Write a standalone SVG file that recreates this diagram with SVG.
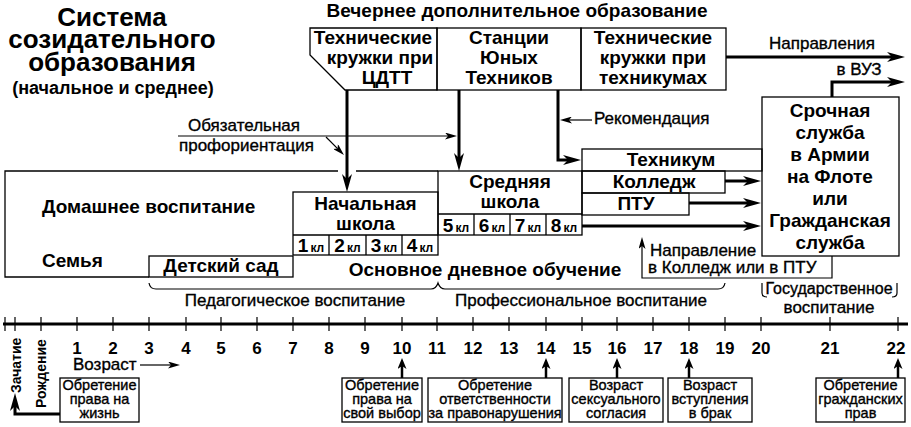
<svg xmlns="http://www.w3.org/2000/svg" width="911" height="427" viewBox="0 0 911 427">
<style>
.bx{fill:none;stroke:#000;stroke-width:1.3}
.t{font-family:"Liberation Sans",Arial,sans-serif;fill:#000}
.b{font-weight:bold}
.r{stroke:#000;stroke-width:0.35}
.c{text-anchor:middle}
.f17{font-size:17px}
.f19{font-size:19px}
.f14{font-size:14.5px}
.kl{font-size:12px}
.thick{fill:none;stroke:#000;stroke-width:3}
.thin{fill:none;stroke:#000;stroke-width:1.2}
.mid{fill:none;stroke:#000;stroke-width:2.5}
</style>
<defs>
<marker id="ah" markerUnits="userSpaceOnUse" markerWidth="18" markerHeight="10" refX="5" refY="5" orient="auto"><path d="M0,0 L18,5 L0,10 L5,5 z" fill="#000"/></marker>
<marker id="as" markerUnits="userSpaceOnUse" markerWidth="12" markerHeight="7" refX="3" refY="3.5" orient="auto"><path d="M0,0 L12,3.5 L0,7 L3,3.5 z" fill="#000"/></marker>
<marker id="at" markerUnits="userSpaceOnUse" markerWidth="11" markerHeight="9" refX="3" refY="4.5" orient="auto"><path d="M0,0 L11,4.5 L0,9 L3,4.5 z" fill="#000"/></marker>
</defs>
<rect width="911" height="427" fill="#fff"/>

<g id="title" class="t b c">
<text x="112" y="26" font-size="26">Система</text>
<text x="112" y="48" font-size="26">созидательного</text>
<text x="112" y="71" font-size="26">образования</text>
<text x="113" y="94" font-size="18">(начальное и среднее)</text>
</g>

<g id="evening-title"><text class="t b c f19" x="517" y="17">Вечернее дополнительное образование</text></g>

<g id="cdtt">
<path class="bx" d="M310,28 H437 V90 H345 L310,55 Z"/>
<text class="t b c f19" x="373" y="44">Технические</text>
<text class="t b c f19" x="380" y="64">кружки при</text>
<text class="t b c f19" x="387" y="84">ЦДТТ</text>
</g>
<g id="syt">
<rect class="bx" x="437" y="28" width="144" height="62"/>
<text class="t b c f19" x="509" y="44">Станции</text>
<text class="t b c f19" x="509" y="64">Юных</text>
<text class="t b c f19" x="509" y="84">Техников</text>
</g>
<g id="tech-circles">
<rect class="bx" x="581" y="28" width="145" height="62"/>
<text class="t b c f19" x="653" y="44">Технические</text>
<text class="t b c f19" x="653" y="64">кружки при</text>
<text class="t b c f19" x="653" y="84">техникумах</text>
</g>

<g id="home">
<path class="bx" d="M338,171 H5 V277 H149 M356,171 H438"/>
<text class="t b f19" x="42" y="213">Домашнее воспитание</text>
<text class="t b f19" x="42" y="267">Семья</text>
</g>
<g id="kindergarten">
<rect class="bx" x="149" y="256" width="144" height="21"/>
<text class="t b c f19" x="221" y="272">Детский сад</text>
</g>
<g id="primary">
<rect class="bx" x="293" y="192" width="145" height="63"/>
<path class="bx" d="M293,235 H438 M329,235 V255 M366,235 V255 M402,235 V255"/>
<text class="t b c f19" x="365.5" y="210">Начальная</text>
<text class="t b c f19" x="365.5" y="230">школа</text>
<text class="t b c f19" x="311" y="252">1<tspan class="kl" dx="2">кл</tspan></text>
<text class="t b c f19" x="347.5" y="252">2<tspan class="kl" dx="2">кл</tspan></text>
<text class="t b c f19" x="384" y="252">3<tspan class="kl" dx="2">кл</tspan></text>
<text class="t b c f19" x="420" y="252">4<tspan class="kl" dx="2">кл</tspan></text>
</g>
<g id="secondary">
<rect class="bx" x="438" y="171" width="144" height="64"/>
<path class="bx" d="M438,214 H582 M474,214 V235 M510,214 V235 M546,214 V235"/>
<text class="t b c f19" x="510" y="188">Средняя</text>
<text class="t b c f19" x="510" y="208">школа</text>
<text class="t b c f19" x="456" y="232">5<tspan class="kl" dx="2">кл</tspan></text>
<text class="t b c f19" x="492" y="232">6<tspan class="kl" dx="2">кл</tspan></text>
<text class="t b c f19" x="528" y="232">7<tspan class="kl" dx="2">кл</tspan></text>
<text class="t b c f19" x="564" y="232">8<tspan class="kl" dx="2">кл</tspan></text>
</g>
<g id="basic-label"><text class="t b c f19" x="485" y="276">Основное дневное обучение</text></g>

<g id="technikum">
<rect class="bx" x="582" y="149" width="180" height="22"/>
<text class="t b c f19" x="671" y="166">Техникум</text>
</g>
<g id="college">
<rect class="bx" x="582" y="171" width="143" height="22"/>
<text class="t b c f19" x="654" y="188">Колледж</text>
</g>
<g id="ptu">
<rect class="bx" x="582" y="193" width="107" height="22"/>
<text class="t b c f19" x="636" y="210">ПТУ</text>
</g>
<g id="service">
<rect class="bx" x="762" y="97" width="137" height="159"/>
<g class="t b c f19">
<text x="830" y="117">Срочная</text>
<text x="830" y="139">служба</text>
<text x="830" y="161">в Армии</text>
<text x="830" y="183">на Флоте</text>
<text x="830" y="205">или</text>
<text x="830" y="227">Гражданская</text>
<text x="830" y="249">служба</text>
</g>
</g>

<g id="connectors">
<path class="thick" d="M347,90 V179" marker-end="url(#ah)"/>
<path class="thick" d="M459,90 V158" marker-end="url(#ah)"/>
<path class="thick" d="M558,90 V160 H568" marker-end="url(#ah)"/>
<path class="thick" d="M726,57 H892" marker-end="url(#ah)"/>
<path class="thick" d="M832,97 V82 H892" marker-end="url(#ah)"/>
<path class="thick" d="M725,181 H748" marker-end="url(#ah)"/>
<path class="thick" d="M689,203 H748" marker-end="url(#ah)"/>
<path class="thick" d="M582,226 H748" marker-end="url(#ah)"/>
<path class="thin" d="M592,120 H569" marker-end="url(#as)"/>
<path class="thin" d="M178,136 H448" marker-end="url(#as)"/>
<path class="thin" d="M326,137 L337.6,148.6" marker-end="url(#as)"/>
<path class="thin" d="M832,256 V278 H642 V246" marker-end="url(#as)"/>
<path class="thin" d="M140,365 H171" marker-end="url(#as)"/>
<path class="thick" d="M60,414 H15 V406" marker-end="url(#ah)"/>
<path class="mid" d="M402,378 V366" marker-end="url(#at)"/>
<path class="mid" d="M546,378 V366" marker-end="url(#at)"/>
<path class="mid" d="M617,378 V366" marker-end="url(#at)"/>
<path class="mid" d="M689,378 V366" marker-end="url(#at)"/>
<path class="mid" d="M898,378 V366" marker-end="url(#at)"/>
</g>

<g id="annotations" class="t r f17">
<text x="822" y="49" class="c">Направления</text>
<text x="859" y="75" class="c">в ВУЗ</text>
<text x="594" y="124">Рекомендация</text>
<text x="188" y="131">Обязательная</text>
<text x="179" y="151">профориентация</text>
<text x="650" y="256">Направление</text>
<text x="648" y="273">в Колледж или в ПТУ</text>
</g>

<g id="braces">
<path class="thin" d="M149,283 Q150,289 156,289 H431 Q436,289 438,283 Q440,289 445,289 H718 Q724,289 725,283"/>
<path class="thin" d="M762,283 V293 Q762,297 767,297 M897,283 V293 Q897,297 892,297"/>
<text class="t r f17 c" x="295" y="306">Педагогическое воспитание</text>
<text class="t r f17 c" x="581" y="306">Профессиональное воспитание</text>
<text class="t r c" font-size="16" x="829" y="294">Государственное</text>
<text class="t r f17 c" x="829" y="313">воспитание</text>
</g>

<g id="timeline">
<path class="thick" d="M3,324 H908"/>
<path class="thin" d="M5,317 V331 M15,317 V331 M41,317 V331 M77,317 V331 M113,317 V331 M149,317 V331 M186,317 V331 M221,317 V331 M257,317 V331 M293,317 V331 M329,317 V331 M365,317 V331 M402,317 V331 M437,317 V331 M473,317 V331 M509,317 V331 M546,317 V331 M582,317 V331 M617,317 V331 M653,317 V331 M689,317 V331 M725,317 V331 M761,317 V331 M830,317 V331 M898,317 V331"/>
<g class="t b c f17">
<text x="77" y="354">1</text><text x="113" y="354">2</text><text x="149" y="354">3</text><text x="186" y="354">4</text>
<text x="221" y="354">5</text><text x="257" y="354">6</text><text x="293" y="354">7</text><text x="329" y="354">8</text>
<text x="365" y="354">9</text><text x="402" y="354">10</text><text x="437" y="354">11</text><text x="473" y="354">12</text>
<text x="509" y="354">13</text><text x="546" y="354">14</text><text x="582" y="354">15</text><text x="617" y="354">16</text>
<text x="653" y="354">17</text><text x="689" y="354">18</text><text x="725" y="354">19</text><text x="761" y="354">20</text>
<text x="830" y="354">21</text><text x="896" y="354">22</text>
</g>
<text class="t b" font-size="14" transform="translate(21,393) rotate(-90)">Зачатие</text>
<text class="t b" font-size="14" transform="translate(46,408) rotate(-90)">Рождение</text>
<text class="t r f17" x="73" y="370">Возраст</text>
</g>

<g id="life">
<rect class="bx" x="60" y="378" width="79" height="44"/>
<text class="t r f14 c" x="99.5" y="390">Обретение</text>
<text class="t r f14 c" x="99.5" y="404">права на</text>
<text class="t r f14 c" x="99.5" y="418">жизнь</text>
</g>
<g id="choice">
<rect class="bx" x="342" y="378" width="80" height="44"/>
<text class="t r f14 c" x="382" y="390">Обретение</text>
<text class="t r f14 c" x="382" y="404">права на</text>
<text class="t r f14 c" x="382" y="418">свой выбор</text>
</g>
<g id="responsibility">
<rect class="bx" x="428" y="378" width="134" height="44"/>
<text class="t r f14 c" x="495" y="390">Обретение</text>
<text class="t r f14 c" x="495" y="404">ответственности</text>
<text class="t r f14 c" x="495" y="418">за правонарушения</text>
</g>
<g id="consent">
<rect class="bx" x="569" y="378" width="94" height="44"/>
<text class="t r f14 c" x="616" y="390">Возраст</text>
<text class="t r f14 c" x="616" y="404">сексуального</text>
<text class="t r f14 c" x="616" y="418">согласия</text>
</g>
<g id="marriage">
<rect class="bx" x="668" y="378" width="84" height="44"/>
<text class="t r f14 c" x="710" y="390">Возраст</text>
<text class="t r f14 c" x="710" y="404">вступления</text>
<text class="t r f14 c" x="710" y="418">в брак</text>
</g>
<g id="civil">
<rect class="bx" x="816" y="378" width="89" height="44"/>
<text class="t r f14 c" x="860.5" y="390">Обретение</text>
<text class="t r f14 c" x="860.5" y="404">гражданских</text>
<text class="t r f14 c" x="860.5" y="418">прав</text>
</g>
</svg>
